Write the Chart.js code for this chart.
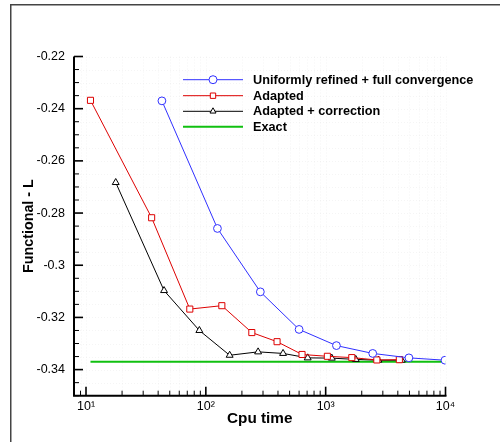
<!DOCTYPE html>
<html>
<head>
<meta charset="utf-8">
<script src="https://cdn.jsdelivr.net/npm/chart.js@4"></script>
<style>
  html, body { margin: 0; padding: 0; background: #fff; }
  canvas { display: block; }
</style>
</head>
<body>
<canvas id="c" width="500" height="442"></canvas>
<script>
// ---- data ----
const seriesNames = ['Uniformly refined + full convergence', 'Adapted', 'Adapted + correction', 'Exact'];

const uniformX = [43, 125, 285, 600, 1230, 2470, 4950, 9900];
const uniformY = [-0.2370, -0.2859, -0.3102, -0.3246, -0.3308, -0.3338, -0.3355, -0.3364];

const adaptedX = [10.9, 35.3, 73.5, 136, 242, 393, 635, 1033, 1652, 2673, 4120];
const adaptedY = [-0.2368, -0.2818, -0.3168, -0.3155, -0.3258, -0.3293, -0.3342, -0.3349, -0.3354, -0.3363, -0.3362];

const correctedX = [17.7, 44.8, 88.3, 158, 273, 441, 708, 1125, 1783, 2755, 4315];
const correctedY = [-0.2683, -0.3097, -0.3250, -0.3345, -0.3332, -0.3338, -0.3355, -0.3356, -0.3361, -0.3364, -0.3364];

const exactX = [10.9, 10000];
const exactY = [-0.337, -0.337];

// axis ticks
const xMajorTicks = [10, 100, 1000, 10000];
const xMajorLabels = ['10\u00B9', '10\u00B2', '10\u00B3', '10\u2074'];
const xMinorTicks = [8, 9, 20, 30, 40, 50, 60, 70, 80, 90, 200, 300, 400, 500, 600, 700, 800, 900,
                     2000, 3000, 4000, 5000, 6000, 7000, 8000, 9000];
const yMajorTicks = [-0.22, -0.24, -0.26, -0.28, -0.30, -0.32, -0.34];
const yMajorLabels = ['-0.22', '-0.24', '-0.26', '-0.28', '-0.3', '-0.32', '-0.34'];
const yMinorStep = 0.005;

function pts(xs, ys) { return xs.map((x, i) => ({ x: x, y: ys[i] })); }

const FONT = 'Arial, "Liberation Sans", Helvetica, sans-serif';
Chart.defaults.color = '#000';
Chart.defaults.font.family = FONT;

const COLORS = ['#3030ff', '#dd0000', '#000000', '#10c010'];

const framePlugin = {
  id: 'frameAndTicks',
  afterDraw(chart) {
    const { ctx, chartArea: a, scales } = chart;
    const xs = scales.x, ys = scales.y;
    ctx.save();
    ctx.setLineDash([]);
    // outer frame (top and left edges are visible in the window)
    ctx.strokeStyle = '#444';
    ctx.lineWidth = 1.5;
    ctx.beginPath();
    ctx.moveTo(10.75, 442); ctx.lineTo(10.75, 4.75); ctx.lineTo(500, 4.75);
    ctx.stroke();
    // axis lines
    ctx.strokeStyle = '#000';
    ctx.lineWidth = 2;
    ctx.beginPath();
    ctx.moveTo(a.left, a.top); ctx.lineTo(a.left, a.bottom); ctx.lineTo(a.right + 1, a.bottom);
    ctx.stroke();
    // inward ticks
    ys.ticks.forEach(t => {
      const major = yMajorTicks.some(v => Math.abs(v - t.value) < 1e-6);
      const py = ys.getPixelForValue(t.value);
      ctx.lineWidth = major ? 1.6 : 1;
      ctx.beginPath(); ctx.moveTo(a.left, py); ctx.lineTo(a.left + (major ? 9 : 5), py); ctx.stroke();
    });
    xs.ticks.forEach(t => {
      const major = xMajorTicks.indexOf(t.value) >= 0;
      const px = xs.getPixelForValue(t.value);
      ctx.lineWidth = major ? 1.6 : 1;
      ctx.beginPath(); ctx.moveTo(px, a.bottom); ctx.lineTo(px, a.bottom - (major ? 9 : 5)); ctx.stroke();
    });
    ctx.restore();
  }
};

const legendPlugin = {
  id: 'customLegend',
  afterDatasetsDraw(chart) {
    const ctx = chart.ctx;
    const rows = [79.7, 95.7, 111.3, 126.7];
    const x0 = 183, x1 = 243, xm = 213, xt = 253;
    ctx.save();
    chart.data.datasets.forEach((ds, i) => {
      const y = rows[i];
      ctx.strokeStyle = ds.borderColor;
      ctx.lineWidth = ds.borderWidth;
      ctx.beginPath(); ctx.moveTo(x0, y); ctx.lineTo(x1, y); ctx.stroke();
      if (ds.pointRadius > 0) {
        ctx.fillStyle = '#fff';
        ctx.strokeStyle = ds.borderColor;
        ctx.lineWidth = 1;
        Chart.helpers.drawPoint(ctx, { pointStyle: ds.pointStyle, radius: ds.legendRadius, borderWidth: 1, rotation: 0 }, xm, y);
      }
      ctx.fillStyle = '#000';
      ctx.font = 'bold 12.7px ' + FONT;
      ctx.textBaseline = 'middle';
      ctx.textAlign = 'left';
      ctx.fillText(ds.label, xt, y + 0.5);
    });
    ctx.restore();
  }
};

const gridPlugin = {
  id: 'faintGrid',
  beforeDatasetsDraw(chart) {
    const { ctx, chartArea: a, scales } = chart;
    ctx.save();
    ctx.strokeStyle = 'rgba(0,0,0,0.04)';
    ctx.lineWidth = 1;
    ctx.setLineDash([1, 2]);
    scales.y.ticks.forEach(t => {
      const py = Math.round(scales.y.getPixelForValue(t.value)) + 0.5;
      ctx.beginPath(); ctx.moveTo(a.left, py); ctx.lineTo(a.right, py); ctx.stroke();
    });
    scales.x.ticks.forEach(t => {
      const px = Math.round(scales.x.getPixelForValue(t.value)) + 0.5;
      ctx.beginPath(); ctx.moveTo(px, a.top); ctx.lineTo(px, a.bottom); ctx.stroke();
    });
    ctx.setLineDash([]);
    ctx.restore();
  }
};

new Chart(document.getElementById('c'), {
  type: 'line',
  data: {
    datasets: [
      { label: seriesNames[0], data: pts(uniformX, uniformY), borderColor: COLORS[0], backgroundColor: '#fff', fill: false,
        borderWidth: 1, pointStyle: 'circle', pointRadius: 3.9, pointBorderWidth: 1, legendRadius: 4, pointBackgroundColor: '#fff' },
      { label: seriesNames[1], data: pts(adaptedX, adaptedY), borderColor: COLORS[1], backgroundColor: '#fff', fill: false,
        borderWidth: 1, pointStyle: 'rect', pointRadius: 4.3, pointBorderWidth: 1, legendRadius: 3.8, pointBackgroundColor: '#fff' },
      { label: seriesNames[2], data: pts(correctedX, correctedY), borderColor: COLORS[2], backgroundColor: '#fff', fill: false,
        borderWidth: 1, pointStyle: 'triangle', pointRadius: 4, pointBorderWidth: 1, legendRadius: 3.5, pointBackgroundColor: '#fff' },
      { label: seriesNames[3], data: pts(exactX, exactY), borderColor: COLORS[3], backgroundColor: COLORS[3], fill: false,
        borderWidth: 2, pointRadius: 0, legendRadius: 0 }
    ]
  },
  options: {
    responsive: false,
    animation: false,
    devicePixelRatio: 1,
    layout: { padding: { top: 56.5, right: 54.5, left: 0, bottom: 0 } },
    plugins: { legend: { display: false }, tooltip: { enabled: false } },
    elements: { line: { tension: 0 } },
    scales: {
      x: {
        type: 'logarithmic',
        min: 7.94, max: 10000,
        afterBuildTicks: s => { s.ticks = xMinorTicks.concat(xMajorTicks).sort((a, b) => a - b).map(v => ({ value: v })); },
        afterFit: s => { s.height = 46.3; },
        grid: { display: false, drawTicks: false },
        border: { display: false },
        ticks: {
          autoSkip: false, maxRotation: 0, padding: 3,
          font: { size: 12.5 },
          callback: v => { const i = xMajorTicks.indexOf(v); return i >= 0 ? xMajorLabels[i] : ''; }
        },
        title: { display: true, text: 'Cpu time', font: { size: 15.3, weight: 'bold' }, padding: { top: 0, bottom: 14 } }
      },
      y: {
        type: 'linear',
        min: -0.35, max: -0.22,
        afterBuildTicks: s => {
          const t = [];
          for (let i = 0; i <= 26; i++) t.push({ value: Math.round((-0.35 + i * yMinorStep) * 1000) / 1000 });
          s.ticks = t;
        },
        afterFit: s => { s.width = 74; },
        grid: { display: false, drawTicks: false },
        border: { display: false },
        ticks: {
          autoSkip: false, padding: 9,
          font: { size: 12.5 },
          callback: v => { const i = yMajorTicks.findIndex(m => Math.abs(m - v) < 1e-6); return i >= 0 ? yMajorLabels[i] : ''; }
        },
        title: { display: true, text: 'Functional - L', font: { size: 14.3, weight: 'bold' }, padding: { top: 20, bottom: 0 } }
      }
    }
  },
  plugins: [gridPlugin, framePlugin, legendPlugin]
});
</script>
</body>
</html>
